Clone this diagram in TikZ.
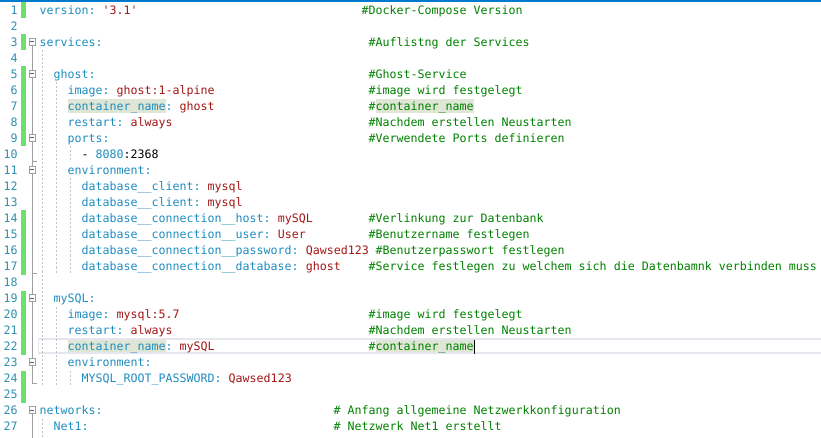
\documentclass[tikz,border=0pt]{standalone}
\usepackage{fontspec}
\setmonofont{DejaVu Sans Mono}
\usepackage{tikz}
\definecolor{keycolour}{RGB}{30,140,190}
\definecolor{valuecolour}{RGB}{163,21,21}
\definecolor{commentcolour}{RGB}{0,128,0}
\definecolor{linenocolour}{RGB}{43,145,175}
\definecolor{changecolour}{RGB}{108,224,108}
\definecolor{foldcolour}{RGB}{160,160,160}
\definecolor{guidecolour}{RGB}{196,196,196}
\definecolor{matchcolour}{RGB}{224,230,214}
\definecolor{currentcolour}{RGB}{230,230,238}
\definecolor{barcolour}{RGB}{0,122,204}
\newcommand\codefont{\ttfamily\fontsize{11.63}{16}\selectfont}
\newcommand\yamlkey[1]{\textcolor{keycolour}{#1}}
\newcommand\yamlval[1]{\textcolor{valuecolour}{#1}}
\newcommand\guidewd{1pt}
\tikzstyle{codetext}  = [anchor=base west, inner sep=0pt, font=\codefont]
\tikzstyle{cmttext}   = [codetext, color=commentcolour]
\tikzstyle{lineno}    = [anchor=base east, inner sep=0pt, font=\codefont, color=linenocolour]
\tikzstyle{foldbox}   = [draw=foldcolour, fill=white, line width=1pt, minimum size=6.6pt, inner sep=0pt]
\tikzstyle{foldline}  = [draw=foldcolour, line width=1pt]
\tikzstyle{guide}     = [draw=guidecolour, line width=\guidewd, dash pattern=on 2pt off 2pt]
\tikzstyle{changebar} = [fill=changecolour]
\tikzstyle{matchmark} = [fill=matchcolour]
\begin{document}
\begin{tikzpicture}[x=1pt, y=-1pt]
    \useasboundingbox (0, 0) rectangle (821, 438);
    \fill[barcolour] (0, 0) rectangle (821, 2);
    \fill[changebar] (21, 2.5) rectangle (25.5, 18.5);
    \fill[changebar] (21, 34.5) rectangle (25.5, 50.5);
    \fill[changebar] (21, 66.5) rectangle (25.5, 146.5);
    \fill[changebar] (21, 210.5) rectangle (25.5, 274.5);
    \fill[changebar] (21, 290.5) rectangle (25.5, 354.5);
    \fill[changebar] (21, 370.5) rectangle (25.5, 402.5);
    \fill[matchmark] (67.5, 99.5) rectangle (165.5, 113.5);
    \fill[matchmark] (375.5, 99.5) rectangle (473.5, 113.5);
    \fill[matchmark] (67.5, 339.5) rectangle (165.5, 353.5);
    \fill[matchmark] (375.5, 339.5) rectangle (473.5, 353.5);
    \draw[currentcolour, line width=1.7pt] (38.5, 339.2) rectangle (830, 352.8);
    \draw[line width=1pt] (474, 339.5) -- (474, 353.5);
    \draw[guide] (42.5, 50.5) -- (42.5, 386.5);
    \draw[guide] (42.5, 418.5) -- (42.5, 438);
    \draw[guide] (56.5, 82.5) -- (56.5, 274.5);
    \draw[guide] (56.5, 306.5) -- (56.5, 386.5);
    \draw[guide] (70.5, 146.5) -- (70.5, 162.5);
    \draw[guide] (70.5, 178.5) -- (70.5, 274.5);
    \draw[guide] (70.5, 370.5) -- (70.5, 386.5);
    \draw (32.3, 42) node[foldbox] (fold3) {\color{foldcolour!60!black}\rule{4pt}{1pt}};
    \draw (32.3, 74) node[foldbox] (fold5) {\color{foldcolour!60!black}\rule{4pt}{1pt}};
    \draw (32.3, 138) node[foldbox] (fold9) {\color{foldcolour!60!black}\rule{4pt}{1pt}};
    \draw (32.3, 170) node[foldbox] (fold11) {\color{foldcolour!60!black}\rule{4pt}{1pt}};
    \draw (32.3, 298) node[foldbox] (fold19) {\color{foldcolour!60!black}\rule{4pt}{1pt}};
    \draw (32.3, 362) node[foldbox] (fold23) {\color{foldcolour!60!black}\rule{4pt}{1pt}};
    \draw (32.3, 410) node[foldbox] (fold26) {\color{foldcolour!60!black}\rule{4pt}{1pt}};
    \coordinate (end10) at (32.3, 162);
    \coordinate (end17) at (32.3, 273.5);
    \coordinate (end24) at (32.3, 383);
    \coordinate (end27) at (32.3, 438);
    \draw[foldline] (fold3) -- (fold5);
    \draw[foldline] (fold5) -- (fold9);
    \draw[foldline] (fold9) -- (fold11);
    \draw[foldline] (fold11) -- (fold19);
    \draw[foldline] (fold19) -- (fold23);
    \draw[foldline] (fold23) -- (end24) -- ++(4.3, 0);
    \draw[foldline] (end10) -- ++(4.3, 0);
    \draw[foldline] (end17) -- ++(4.3, 0);
    \draw[foldline] (fold26) -- (end27);
    \draw (17.8, 14.5) node[lineno] (num1) {1};
    \draw (17.8, 30.5) node[lineno] (num2) {2};
    \draw (17.8, 46.5) node[lineno] (num3) {3};
    \draw (17.8, 62.5) node[lineno] (num4) {4};
    \draw (17.8, 78.5) node[lineno] (num5) {5};
    \draw (17.8, 94.5) node[lineno] (num6) {6};
    \draw (17.8, 110.5) node[lineno] (num7) {7};
    \draw (17.8, 126.5) node[lineno] (num8) {8};
    \draw (17.8, 142.5) node[lineno] (num9) {9};
    \draw (17.8, 158.5) node[lineno] (num10) {10};
    \draw (17.8, 174.5) node[lineno] (num11) {11};
    \draw (17.8, 190.5) node[lineno] (num12) {12};
    \draw (17.8, 206.5) node[lineno] (num13) {13};
    \draw (17.8, 222.5) node[lineno] (num14) {14};
    \draw (17.8, 238.5) node[lineno] (num15) {15};
    \draw (17.8, 254.5) node[lineno] (num16) {16};
    \draw (17.8, 270.5) node[lineno] (num17) {17};
    \draw (17.8, 286.5) node[lineno] (num18) {18};
    \draw (17.8, 302.5) node[lineno] (num19) {19};
    \draw (17.8, 318.5) node[lineno] (num20) {20};
    \draw (17.8, 334.5) node[lineno] (num21) {21};
    \draw (17.8, 350.5) node[lineno] (num22) {22};
    \draw (17.8, 366.5) node[lineno] (num23) {23};
    \draw (17.8, 382.5) node[lineno] (num24) {24};
    \draw (17.8, 398.5) node[lineno] (num25) {25};
    \draw (17.8, 414.5) node[lineno] (num26) {26};
    \draw (17.8, 430.5) node[lineno] (num27) {27};
    \draw (39.5, 14.5) node[codetext] (code1) {\yamlkey{version:} \yamlval{'3.1'}};
    \draw (361.5, 14.5) node[cmttext] (cmt1) {\#Docker-Compose Version};
    \draw (39.5, 46.5) node[codetext] (code3) {\yamlkey{services:}};
    \draw (368.5, 46.5) node[cmttext] (cmt3) {\#Auflistng der Services};
    \draw (53.5, 78.5) node[codetext] (code5) {\yamlkey{ghost:}};
    \draw (368.5, 78.5) node[cmttext] (cmt5) {\#Ghost-Service};
    \draw (67.5, 94.5) node[codetext] (code6) {\yamlkey{image:} \yamlval{ghost:1-alpine}};
    \draw (368.5, 94.5) node[cmttext] (cmt6) {\#image wird festgelegt};
    \draw (67.5, 110.5) node[codetext] (code7) {\yamlkey{container\_name:} \yamlval{ghost}};
    \draw (368.5, 110.5) node[cmttext] (cmt7) {\#container\_name};
    \draw (67.5, 126.5) node[codetext] (code8) {\yamlkey{restart:} \yamlval{always}};
    \draw (368.5, 126.5) node[cmttext] (cmt8) {\#Nachdem erstellen Neustarten};
    \draw (67.5, 142.5) node[codetext] (code9) {\yamlkey{ports:}};
    \draw (368.5, 142.5) node[cmttext] (cmt9) {\#Verwendete Ports definieren};
    \draw (81.5, 158.5) node[codetext] (code10) {- \yamlkey{8080}:2368};
    \draw (67.5, 174.5) node[codetext] (code11) {\yamlkey{environment:}};
    \draw (81.5, 190.5) node[codetext] (code12) {\yamlkey{database\_\_client:} \yamlval{mysql}};
    \draw (81.5, 206.5) node[codetext] (code13) {\yamlkey{database\_\_client:} \yamlval{mysql}};
    \draw (81.5, 222.5) node[codetext] (code14) {\yamlkey{database\_\_connection\_\_host:} \yamlval{mySQL}};
    \draw (368.5, 222.5) node[cmttext] (cmt14) {\#Verlinkung zur Datenbank};
    \draw (81.5, 238.5) node[codetext] (code15) {\yamlkey{database\_\_connection\_\_user:} \yamlval{User}};
    \draw (368.5, 238.5) node[cmttext] (cmt15) {\#Benutzername festlegen};
    \draw (81.5, 254.5) node[codetext] (code16) {\yamlkey{database\_\_connection\_\_password:} \yamlval{Qawsed123}};
    \draw (375.5, 254.5) node[cmttext] (cmt16) {\#Benutzerpasswort festlegen};
    \draw (81.5, 270.5) node[codetext] (code17) {\yamlkey{database\_\_connection\_\_database:} \yamlval{ghost}};
    \draw (368.5, 270.5) node[cmttext] (cmt17) {\#Service festlegen zu welchem sich die Datenbamnk verbinden muss};
    \draw (53.5, 302.5) node[codetext] (code19) {\yamlkey{mySQL:}};
    \draw (67.5, 318.5) node[codetext] (code20) {\yamlkey{image:} \yamlval{mysql:5.7}};
    \draw (368.5, 318.5) node[cmttext] (cmt20) {\#image wird festgelegt};
    \draw (67.5, 334.5) node[codetext] (code21) {\yamlkey{restart:} \yamlval{always}};
    \draw (368.5, 334.5) node[cmttext] (cmt21) {\#Nachdem erstellen Neustarten};
    \draw (67.5, 350.5) node[codetext] (code22) {\yamlkey{container\_name:} \yamlval{mySQL}};
    \draw (368.5, 350.5) node[cmttext] (cmt22) {\#container\_name};
    \draw (67.5, 366.5) node[codetext] (code23) {\yamlkey{environment:}};
    \draw (81.5, 382.5) node[codetext] (code24) {\yamlkey{MYSQL\_ROOT\_PASSWORD:} \yamlval{Qawsed123}};
    \draw (39.5, 414.5) node[codetext] (code26) {\yamlkey{networks:}};
    \draw (333.5, 414.5) node[cmttext] (cmt26) {\# Anfang allgemeine Netzwerkkonfiguration};
    \draw (53.5, 430.5) node[codetext] (code27) {\yamlkey{Net1:}};
    \draw (333.5, 430.5) node[cmttext] (cmt27) {\# Netzwerk Net1 erstellt};
\end{tikzpicture}
\end{document}
